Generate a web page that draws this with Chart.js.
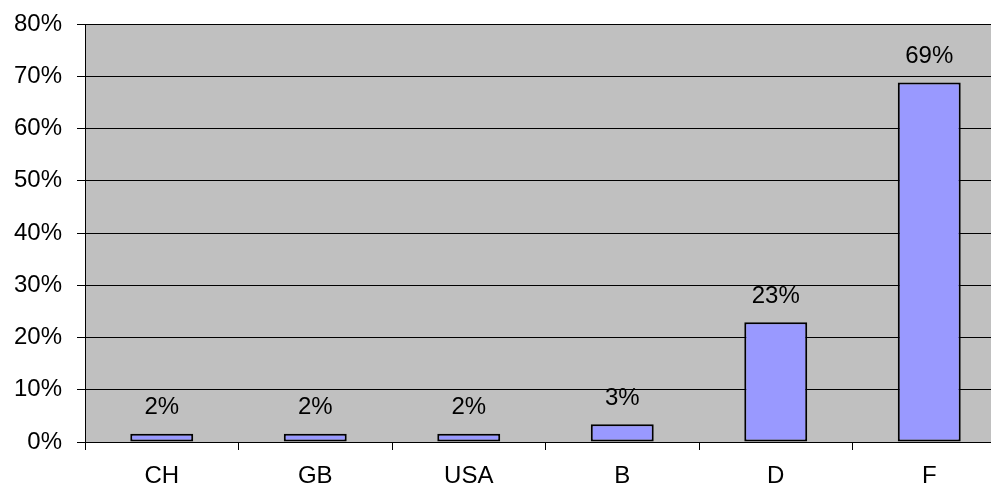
<!DOCTYPE html>
<html>
<head>
<meta charset="utf-8">
<script src="https://cdn.jsdelivr.net/npm/chart.js@4/dist/chart.umd.min.js"></script>
<style>
  html, body { margin: 0; padding: 0; background: #fff; overflow: hidden; }
  #wrap { width: 1006px; height: 490px; }
</style>
</head>
<body>
<div id="wrap"><canvas id="chart" width="1006" height="490"></canvas></div>
<script>
// Share by country (percent)
const countries = ['CH', 'GB', 'USA', 'B', 'D', 'F'];
const shares = [1.6, 1.6, 1.6, 3.4, 22.9, 68.8];
const yTicks = [0, 10, 20, 30, 40, 50, 60, 70, 80];

const FONT = '"Liberation Sans", Arial, sans-serif';

// Grey plot background
const plotBackground = {
  id: 'plotBackground',
  beforeDraw(chart) {
    const { ctx, chartArea: a } = chart;
    ctx.save();
    ctx.fillStyle = '#C0C0C0';
    ctx.fillRect(a.left, a.top, a.right - a.left, a.bottom - a.top);
    ctx.restore();
  }
};

// Percentage labels above each bar
const barLabels = {
  id: 'barLabels',
  afterDatasetsDraw(chart) {
    const { ctx } = chart;
    const meta = chart.getDatasetMeta(0);
    ctx.save();
    ctx.font = '24px ' + FONT;
    ctx.fillStyle = '#000';
    ctx.textAlign = 'center';
    ctx.textBaseline = 'alphabetic';
    meta.data.forEach((bar, i) => {
      ctx.fillText(Math.round(shares[i]) + '%', bar.x, bar.y - 19.5);
    });
    ctx.restore();
  }
};

new Chart(document.getElementById('chart'), {
  type: 'bar',
  data: {
    labels: countries,
    datasets: [{
      data: shares,
      backgroundColor: '#9999FF',
      borderColor: '#000',
      borderWidth: 2,
      borderSkipped: false,
      categoryPercentage: 1,
      barPercentage: 0.41
    }]
  },
  options: {
    responsive: false,
    animation: false,
    devicePixelRatio: 1,
    layout: { padding: { top: 24, right: 0, bottom: 0, left: 0 } },
    plugins: {
      legend: { display: false },
      tooltip: { enabled: false }
    },
    scales: {
      x: {
        afterFit(scale) { scale.height = 48; },
        grid: {
          offset: true,
          drawOnChartArea: false,
          drawTicks: true,
          tickLength: 8,
          color: '#000',
          lineWidth: 1
        },
        border: { display: true, color: '#000', width: 1 },
        ticks: {
          color: '#000',
          padding: 12,
          font: { family: FONT, size: 24 },
          maxRotation: 0
        }
      },
      y: {
        min: 0,
        max: 80,
        afterFit(scale) {
          scale.width = 85;
          scale.paddingTop = 0;
          scale.paddingBottom = 0;
        },
        afterBuildTicks(scale) { scale.ticks = yTicks.map(v => ({ value: v })); },
        grid: {
          color: '#000',
          lineWidth: 1,
          drawTicks: true,
          tickLength: 8
        },
        border: { display: true, color: '#000', width: 1 },
        ticks: {
          color: '#000',
          padding: 15,
          font: { family: FONT, size: 24 },
          callback: v => v + '%'
        }
      }
    }
  },
  plugins: [plotBackground, barLabels]
});
</script>
</body>
</html>
